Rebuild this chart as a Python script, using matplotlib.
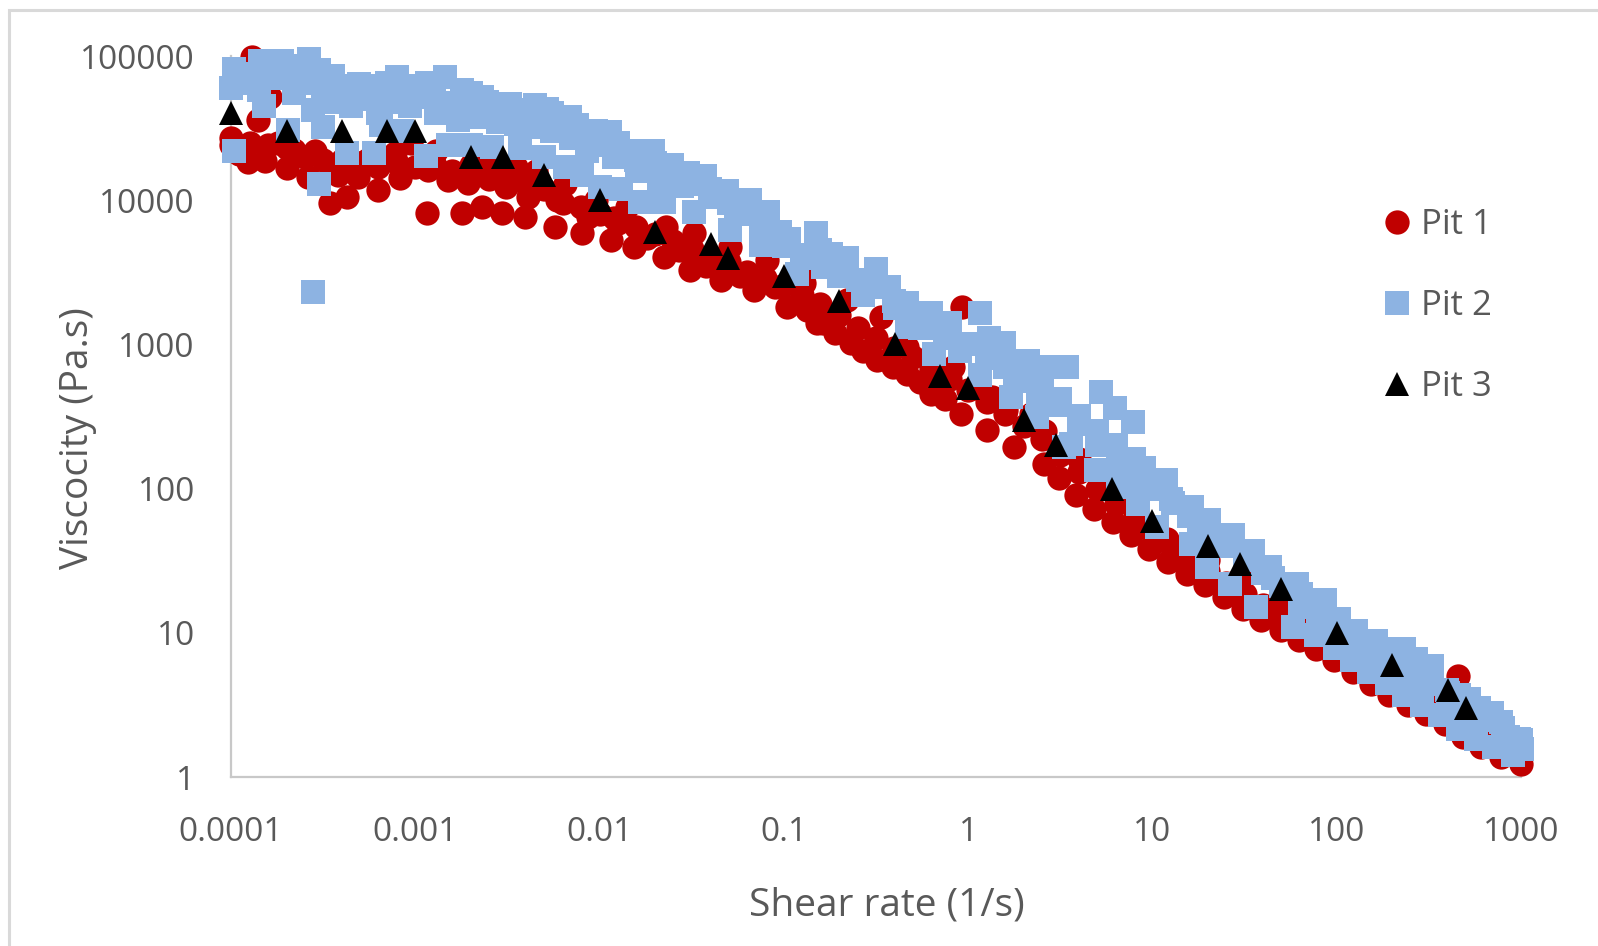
import matplotlib
matplotlib.use("Agg")
import matplotlib.pyplot as plt
from matplotlib.patches import Rectangle

plt.rcParams['font.family'] = ['Open Sans', 'DejaVu Sans']

# shear-rate sweep used by the instrument (1/s), ten points per decade
sweep_x = [1.00e-4, 1.26e-4, 1.58e-4, 2.00e-4, 2.51e-4, 3.16e-4, 3.98e-4, 5.01e-4, 6.31e-4, 7.94e-4,
           1.00e-3, 1.26e-3, 1.58e-3, 2.00e-3, 2.51e-3, 3.16e-3, 3.98e-3, 5.01e-3, 6.31e-3, 7.94e-3,
           0.0100, 0.0126, 0.0158, 0.0200, 0.0251, 0.0316, 0.0398, 0.0501, 0.0631, 0.0794,
           0.100, 0.126, 0.158, 0.200, 0.251, 0.316, 0.398, 0.501, 0.631, 0.794,
           1.00, 1.26, 1.58, 2.00, 2.51, 3.16, 3.98, 5.01, 6.31, 7.94,
           10.0, 12.6, 15.8, 20.0, 25.1, 31.6, 39.8, 50.1, 63.1, 79.4,
           100, 126, 158, 200, 251, 316, 398, 501, 631, 794, 1000]

# Pit 1 - one run on the sweep plus the scattered readings (Pa.s)
pit1_sweep_y = [24000, 25000, 24000, 23000, 20000, 19000, 19000, 18000, 17000, 18000,
                17000, 18000, 16000, 15000, 14000, 14500, 13000, 12000, 9500, 9000,
                8000, 7000, 6500, 5800, 5200, 4600, 4100, 3700, 3200, 2900,
                2600, 2200, 1900, 1600, 1300, 1100, 950, 820, 680, 580,
                480, 400, 330, 270, 220, 170, 130, 100, 78, 62,
                50, 40, 33, 27, 22, 18.5, 15.5, 13, 11, 9.3,
                7.8, 6.6, 5.6, 4.8, 4.1, 3.5, 3.0, 2.5, 2.1, 1.8, 1.5]
pit1_x = [1.0e-4, 1.1e-4, 1.24e-4, 1.3e-4, 1.4e-4, 1.53e-4, 1.63e-4, 1.8e-4, 2.0e-4, 2.2e-4,
          2.6e-4, 2.86e-4, 3.45e-4, 3.8e-4, 4.25e-4, 4.9e-4, 5.5e-4, 6.3e-4, 7.8e-4, 8.3e-4, 9.5e-4,
          1.16e-3, 1.17e-3, 1.3e-3, 1.5e-3, 1.8e-3, 1.93e-3, 2.0e-3, 2.3e-3, 2.5e-3, 2.95e-3,
          3.1e-3, 3.5e-3, 3.95e-3, 4.1e-3, 4.5e-3, 5.75e-3, 5.85e-3, 6.5e-3, 8.0e-3, 8.6e-3, 9.5e-3,
          0.0115, 0.012, 0.014, 0.0153, 0.018, 0.0223, 0.023, 0.027, 0.0311, 0.0325, 0.038,
          0.0453, 0.0513, 0.058, 0.0688, 0.0813, 0.09,
          0.104, 0.125, 0.128, 0.133, 0.152, 0.164, 0.19, 0.221, 0.23, 0.27, 0.321, 0.335,
          0.39, 0.468, 0.468, 0.55, 0.627, 0.7, 0.75, 0.83, 0.912, 0.93,
          1.1, 1.27, 1.35, 1.6, 1.78, 2.2, 2.58, 2.6, 3.1, 3.84, 4.0, 4.83, 5.5, 6.08, 7.5,
          7.64, 9.61,
          12.0, 12.1, 15.4, 19.3, 20, 24.5, 30, 30.9, 38.8, 49.9, 50, 62.7, 80,
          77.3, 97.2, 122, 150, 154, 193, 243, 250, 306, 385, 400, 457, 484, 608, 781, 1000]
pit1_y = [27000, 21000, 18400, 98000, 36000, 18700, 52000, 25000, 16600, 22300,
          14500, 22000, 9550, 15000, 10600, 14500, 19000, 11800, 21200, 14200, 25000,
          8100, 16200, 22000, 13800, 8100, 13200, 17500, 9000, 18000, 8100,
          12300, 17000, 7700, 10500, 16000, 6530, 10000, 13000, 5890, 7700, 10000,
          5280, 7500, 9000, 4750, 5500, 4050, 6530, 4500, 3270, 5890, 3500,
          2790, 4750, 3000, 2380, 3840, 2500,
          1820, 3440, 2660, 1730, 1400, 1400, 1200, 2030, 1015, 900, 776, 1550,
          700, 628, 962, 550, 456, 600, 420, 698, 331, 1820,
          500, 254, 432, 350, 194, 331, 149, 250, 118, 89.8, 160, 72.6, 110, 58.6, 80,
          47.4, 38.3,
          45, 31, 25.7, 21.3, 32, 17.7, 24, 14.7, 12.2, 10.4, 15, 8.85, 10,
          7.76, 6.44, 5.35, 6, 4.44, 3.68, 3.14, 4.5, 2.75, 2.34, 3.5, 5.06, 1.89, 1.61, 1.37, 1.23]

# Pit 2 - one run on the sweep plus the scattered readings
pit2_sweep_y = [60000, 70000, 70000, 70000, 65000, 60000, 55000, 52000, 40000, 58000,
                52000, 55000, 44000, 43000, 40000, 38000, 37000, 35000, 33000, 30000,
                24000, 25000, 19000, 18000, 14000, 13000, 12000, 9500, 8000, 7000,
                4800, 4200, 4500, 3600, 2800, 2600, 2000, 1600, 1300, 1200,
                1000, 900, 700, 560, 500, 420, 320, 250, 200, 160,
                100, 85, 65, 50, 40, 33, 26, 21, 16, 13,
                10.5, 8.8, 7.3, 6.2, 5.3, 4.6, 4.0, 3.3, 2.7, 2.2, 1.8]
pit2_x = [1.04e-4, 1.44e-4, 1.88e-4, 2.64e-4, 3.58e-4, 4.96e-4, 6.3e-4, 8.0e-4,
          1.1e-4, 1.7e-4, 2.3e-4, 3.0e-4, 3.8e-4, 4.7e-4, 5.5e-4, 7.0e-4, 8.5e-4, 9.5e-4,
          1.41e-4, 1.5e-4, 2.2e-4, 2.4e-4, 2.8e-4, 3.3e-4, 4.0e-4, 4.5e-4, 5.8e-4, 7.3e-4, 9.3e-4,
          1.04e-4, 1.2e-4, 2.04e-4, 3.16e-4, 4.25e-4, 5.98e-4, 6.5e-4, 8.5e-4, 1.14e-3,
          3.0e-4, 2.77e-4,
          1.09e-3, 1.44e-3, 1.63e-3, 2.0e-3, 2.44e-3, 3.27e-3, 4.48e-3, 5.5e-3, 6.89e-3, 8.8e-3,
          1.15e-3, 1.8e-3, 2.3e-3, 2.8e-3, 3.8e-3, 5.2e-3, 6.0e-3, 7.5e-3, 9.5e-3,
          1.3e-3, 1.7e-3, 2.2e-3, 2.8e-3, 3.5e-3, 4.5e-3, 5.5e-3, 7.0e-3, 8.5e-3,
          1.5e-3, 2.0e-3, 2.6e-3, 3.7e-3, 5.0e-3, 6.5e-3, 8.0e-3, 1.0e-2,
          0.01135, 0.0148, 0.0194, 0.0246, 0.03, 0.0374, 0.049, 0.0653, 0.082, 0.107,
          0.012, 0.016, 0.021, 0.028, 0.04, 0.055, 0.075, 0.095,
          0.013, 0.0166, 0.0223, 0.0325, 0.0513, 0.0747, 0.118,
          0.15, 0.18, 0.22, 0.316, 0.37, 0.468, 0.631, 0.8, 1.16,
          0.13, 0.2, 0.28, 0.4, 0.55, 0.75, 0.9,
          0.163, 0.27, 0.468, 0.65, 1.16,
          1.3, 1.57, 2.1, 2.64, 3.43, 5.27, 6.3, 7.8,
          1.3, 1.8, 2.4, 3.0, 4.0, 5.0, 6.5, 8.5,
          1.7, 2.35, 3.3, 3.6, 4.96, 6.5, 8.3, 8.98,
          11.9, 16.4, 20.4, 27.5, 35, 43.6, 60.7, 86,
          13, 18, 24, 32, 45, 55, 75, 95,
          10.6, 16.1, 19.7, 26.3, 36.6, 58, 77,
          64.2, 80.7, 103, 128, 163, 200, 232, 269, 331, 461, 523, 593, 700, 776, 977, 1012,
          120, 150, 190, 250, 300, 400, 480, 600, 850,
          97.5, 121, 150, 187, 233, 292, 365, 456, 568, 712, 905]
pit2_y = [81000, 93000, 93000, 95000, 73000, 64000, 62000, 71000,
          75000, 80000, 85000, 80000, 62000, 55000, 60000, 65000, 60000, 62000,
          58000, 45000, 55000, 75000, 42000, 48000, 60000, 45000, 50000, 48000, 45000,
          22000, 65000, 30600, 32400, 21300, 21300, 33000, 30000, 20300,
          12900, 2310,
          59000, 71000, 47400, 55000, 48200, 46400, 45700, 40000, 37900, 28000,
          65000, 58000, 52000, 45000, 42000, 43000, 36000, 33000, 30000,
          40000, 36000, 38000, 35000, 34000, 32000, 30000, 27000, 22000,
          24000, 24000, 23500, 22900, 20000, 17100, 15000, 12400,
          29800, 22000, 22000, 17500, 15500, 14800, 11600, 10100, 8260, 5390,
          20000, 16000, 14000, 12500, 10500, 8500, 7000, 6000,
          12000, 9750, 9750, 8320, 6200, 4880, 3100,
          5970, 4230, 4000, 3310, 2500, 1940, 1660, 1400, 1640,
          4000, 3000, 2500, 1800, 1300, 1100, 900,
          3450, 2190, 1320, 865, 611,
          1100, 1024, 764, 698, 698, 468, 360, 292,
          800, 600, 450, 380, 280, 200, 150, 110,
          432, 314, 194, 205, 134, 103, 78.7, 138,
          114, 74.5, 61, 47.4, 36.9, 28.6, 21.7, 16.8,
          80, 55, 42, 32, 24, 20, 15, 12,
          54.1, 41.5, 28.6, 21.9, 15.1, 11, 9.64,
          18.6, 15.4, 12.4, 10.3, 8.82, 7.7, 7.71, 6.57, 5.91, 3.7, 3.47, 3.03, 2.8, 2.39, 1.83, 1.56,
          8.5, 7, 6, 5, 4.4, 3.8, 3.1, 2.5, 1.9,
          7.8, 6.47, 5.37, 4.46, 3.7, 3.15, 2.68, 2.17, 1.85, 1.62, 1.42]

# Pit 3
pit3_x = [1e-4, 2e-4, 4e-4, 7e-4, 1e-3, 2e-3, 3e-3, 5e-3, 1e-2, 2e-2, 4e-2, 5e-2, 0.1, 0.2,
          0.4, 0.7, 1, 2, 3, 6, 10, 20, 30, 50, 100, 200, 400, 500]
pit3_y = [40000, 30000, 30000, 30000, 30000, 20000, 20000, 15000, 10000, 6000, 5000, 4000,
          3000, 2000, 1000, 600, 500, 300, 200, 100, 60, 40, 30, 20, 10, 6, 4, 3]

x_ticks = [1e-4, 1e-3, 1e-2, 1e-1, 1, 10, 100, 1000]
x_tick_labels = ['0.0001', '0.001', '0.01', '0.1', '1', '10', '100', '1000']
y_ticks = [1, 10, 100, 1000, 10000, 100000]
y_tick_labels = ['1', '10', '100', '1000', '10000', '100000']

red = '#C00000'
blue = '#8DB3E2'
grey_text = '#595959'
grey_line = '#C8C8C8'

fig = plt.figure(figsize=(15.98, 9.46), dpi=100, facecolor='white')
ax = fig.add_axes([0.1446, 0.1786, 0.8072, 0.7622])

ax.plot(sweep_x + pit1_x, pit1_sweep_y + pit1_y, linestyle='none', marker='o',
        markersize=17.5, color=red, markeredgewidth=0, clip_on=False, zorder=3,
        label='Pit 1')
ax.plot(sweep_x + pit2_x, pit2_sweep_y + pit2_y, linestyle='none', marker='s',
        markersize=17.5, color=blue, markeredgewidth=0, clip_on=False, zorder=4,
        label='Pit 2')
ax.plot(pit3_x, pit3_y, linestyle='none', marker='^', markersize=17.5,
        color='black', markeredgewidth=0, clip_on=False, zorder=5, label='Pit 3')

ax.set_xscale('log')
ax.set_yscale('log')
ax.set_xlim(1e-4, 1e3)
ax.set_ylim(1, 1e5)
ax.set_xticks(x_ticks)
ax.set_xticklabels(x_tick_labels)
ax.set_yticks(y_ticks)
ax.set_yticklabels(y_tick_labels)
ax.minorticks_off()
ax.tick_params(axis='both', length=0, labelsize=24, labelcolor=grey_text)
ax.tick_params(axis='x', pad=28)
ax.tick_params(axis='y', pad=26)

for side in ['top', 'right']:
    ax.spines[side].set_visible(False)
for side in ['left', 'bottom']:
    ax.spines[side].set_color(grey_line)
    ax.spines[side].set_linewidth(1.6)
    ax.spines[side].set_zorder(2)

ax.set_xlabel('Shear rate (1/s)', fontsize=28, color=grey_text)
ax.set_ylabel('Viscocity (Pa.s)', fontsize=28, color=grey_text)
ax.xaxis.label.set_va('center')
ax.yaxis.label.set_va('center')
ax.xaxis.set_label_coords(0.5085, -0.1775)
ax.yaxis.set_label_coords(-0.119, 0.47)

leg = ax.legend(loc='upper left', bbox_to_anchor=(0.8645, 0.7802),
                bbox_transform=fig.transFigure, frameon=False, fontsize=25,
                handlelength=0.9, handletextpad=0.25, labelspacing=1.35,
                borderpad=0, borderaxespad=0, numpoints=1)
for t in leg.get_texts():
    t.set_color(grey_text)

# light grey outer frame, cut off at the right and bottom
fig.add_artist(Rectangle((9 / 1598, -0.1), 1.2, 1.1 - 10 / 946,
                         transform=fig.transFigure, fill=False,
                         edgecolor='#D9D9D9', linewidth=2.2))

fig.savefig('out.png', dpi=100, facecolor='white')
